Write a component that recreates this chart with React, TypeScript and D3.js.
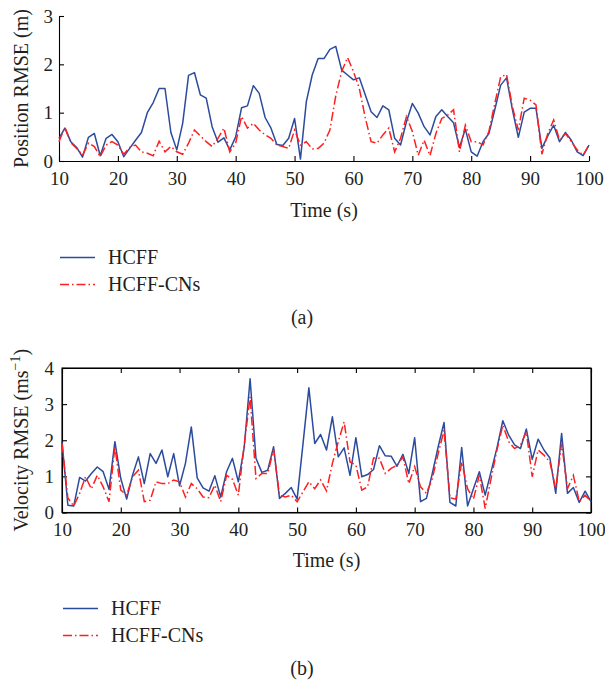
import React, { useEffect, useRef } from 'react';
import * as d3 from 'd3';

// time axis, one sample per second
const times = d3.range(10, 101);
const xTicks = [10, 20, 30, 40, 50, 60, 70, 80, 90, 100];

// (a) position RMSE (m)
const posHCFF = [
  0.47, 0.68, 0.40, 0.28, 0.08, 0.49, 0.57, 0.11, 0.47, 0.55,
  0.40, 0.09, 0.26, 0.43, 0.59, 1.00, 1.21, 1.50, 1.50, 0.59,
  0.23, 0.78, 1.77, 1.83, 1.37, 1.30, 0.71, 0.39, 0.48, 0.23,
  0.50, 1.10, 1.14, 1.56, 1.40, 0.90, 0.68, 0.34, 0.32, 0.47,
  0.88, 0.04, 1.23, 1.78, 2.12, 2.12, 2.31, 2.37, 1.88, 1.78,
  1.68, 1.72, 1.37, 1.02, 0.90, 1.14, 1.06, 0.47, 0.33, 0.81,
  1.19, 0.99, 0.71, 0.54, 0.92, 1.06, 0.92, 0.79, 0.28, 0.66,
  0.19, 0.10, 0.40, 0.57, 1.06, 1.57, 1.72, 1.06, 0.49, 1.01,
  1.09, 1.09, 0.26, 0.52, 0.74, 0.40, 0.59, 0.43, 0.19, 0.11,
  0.33,
];
const posCNs = [
  0.40, 0.70, 0.38, 0.26, 0.12, 0.37, 0.30, 0.09, 0.33, 0.40,
  0.33, 0.14, 0.28, 0.33, 0.19, 0.16, 0.11, 0.41, 0.19, 0.30,
  0.19, 0.14, 0.37, 0.64, 0.52, 0.40, 0.30, 0.47, 0.68, 0.19,
  0.37, 0.92, 0.68, 0.78, 0.64, 0.54, 0.47, 0.33, 0.30, 0.26,
  0.64, 0.33, 0.40, 0.25, 0.26, 0.37, 0.64, 1.35, 1.85, 2.14,
  1.85, 1.50, 0.90, 0.40, 0.37, 0.54, 0.68, 0.19, 0.47, 0.92,
  0.61, 0.12, 0.43, 0.11, 0.57, 0.88, 0.95, 1.06, 0.19, 0.74,
  0.40, 0.40, 0.33, 0.61, 1.19, 1.74, 1.79, 1.12, 0.64, 1.30,
  1.26, 1.16, 0.14, 0.57, 0.85, 0.43, 0.57, 0.40, 0.23, 0.12,
  0.33,
];

// (b) velocity RMSE (m/s)
const velHCFF = [
  1.96, 0.20, 0.18, 0.97, 0.87, 1.08, 1.26, 1.13, 0.64, 1.96,
  0.94, 0.37, 1.03, 1.54, 0.80, 1.63, 1.36, 1.73, 0.99, 1.63,
  0.74, 1.36, 2.37, 0.96, 0.68, 0.59, 1.02, 0.43, 1.13, 1.50,
  0.85, 1.80, 3.70, 1.50, 1.11, 1.17, 1.82, 0.39, 0.53, 0.69,
  0.37, 1.90, 3.45, 1.91, 2.16, 1.73, 2.65, 1.54, 1.79, 1.03,
  2.07, 0.99, 1.05, 1.19, 1.85, 1.57, 1.56, 1.28, 1.61, 1.08,
  2.07, 0.30, 0.39, 1.08, 1.82, 2.49, 0.28, 0.18, 1.80, 0.18,
  0.66, 1.13, 0.48, 1.13, 1.79, 2.54, 2.14, 1.87, 1.77, 2.31,
  1.47, 2.03, 1.73, 1.51, 0.53, 2.19, 0.53, 0.69, 0.28, 0.59,
  0.30,
];
const velCNs = [
  1.91, 0.40, 0.18, 0.53, 0.99, 0.65, 1.03, 0.71, 0.30, 1.82,
  0.62, 0.48, 0.99, 1.17, 0.30, 0.34, 0.85, 0.80, 0.80, 0.90,
  0.85, 0.43, 0.80, 0.66, 0.43, 0.41, 0.76, 0.30, 1.03, 0.92,
  0.48, 1.87, 3.20, 0.94, 1.08, 1.08, 1.75, 0.48, 0.43, 0.48,
  0.30, 0.57, 0.85, 0.66, 0.90, 0.60, 1.36, 1.96, 2.51, 1.40,
  1.31, 0.62, 0.71, 1.51, 1.50, 1.08, 1.22, 1.31, 1.54, 0.80,
  1.27, 0.71, 0.53, 0.94, 1.63, 2.28, 0.41, 0.37, 1.40, 0.66,
  0.37, 1.03, 0.11, 0.94, 1.73, 2.42, 1.96, 1.77, 1.87, 2.23,
  0.99, 1.73, 1.59, 1.40, 0.66, 1.91, 0.66, 1.03, 0.30, 0.48,
  0.30,
];

const seriesNames = ['HCFF', 'HCFF-CNs'];

const FONT = '"Liberation Serif", "Times New Roman", serif';
const TEXT = '#231f20';
const BLUE = '#2b4b9e';
const RED = '#ff1f1f';
const DASH = '9,3,1.5,3';

const drawPanel = (svg, p) => {
  const x = d3.scaleLinear().domain([10, 100]).range([p.left, p.right]);
  const y = d3.scaleLinear().domain([0, p.yMax]).range([p.bottom, p.top]);

  const styleAxis = (g) => {
    g.attr('font-family', FONT).attr('font-size', 19);
    g.selectAll('path, line').attr('stroke', '#000').attr('stroke-width', 1.1);
    g.selectAll('text').attr('fill', TEXT);
  };

  if (p.box) {
    svg.append('rect')
      .attr('x', p.left).attr('y', p.top)
      .attr('width', p.right - p.left).attr('height', p.bottom - p.top)
      .attr('fill', 'none').attr('stroke', '#000').attr('stroke-width', 1.1);
    svg.append('g').attr('transform', `translate(0,${p.top})`)
      .call(d3.axisTop(x).tickValues(xTicks).tickSizeInner(-5).tickSizeOuter(0).tickFormat(() => ''))
      .call(styleAxis);
    svg.append('g').attr('transform', `translate(${p.right},0)`)
      .call(d3.axisRight(y).ticks(p.yMax).tickSizeInner(-5).tickSizeOuter(0).tickFormat(() => ''))
      .call(styleAxis);
  }

  svg.append('g').attr('transform', `translate(0,${p.bottom})`)
    .call(d3.axisBottom(x).tickValues(xTicks).tickSizeInner(-5).tickSizeOuter(0).tickPadding(p.xPad))
    .call(styleAxis);
  svg.append('g').attr('transform', `translate(${p.left},0)`)
    .call(d3.axisLeft(y).ticks(p.yMax).tickFormat(d3.format('d')).tickSizeInner(-5).tickSizeOuter(0).tickPadding(p.yPad))
    .call(styleAxis);

  const line = d3.line()
    .x((d, i) => x(times[i]))
    .y((d) => y(d));

  svg.append('path').datum(p.blue)
    .attr('fill', 'none').attr('stroke', BLUE).attr('stroke-width', 1.5)
    .attr('stroke-linejoin', 'round').attr('d', line);
  svg.append('path').datum(p.red)
    .attr('fill', 'none').attr('stroke', RED).attr('stroke-width', 1.5)
    .attr('stroke-dasharray', DASH).attr('d', line);

  // x label
  svg.append('text')
    .attr('x', (p.left + p.right) / 2).attr('y', p.xLabelY)
    .attr('text-anchor', 'middle').attr('font-family', FONT).attr('font-size', 20).attr('fill', TEXT)
    .text('Time (s)');

  // y label
  const yl = svg.append('text')
    .attr('transform', `translate(28,${(p.top + p.bottom) / 2}) rotate(-90)`)
    .attr('text-anchor', 'middle').attr('font-family', FONT).attr('font-size', 20).attr('fill', TEXT);
  if (p.yLabelSup) {
    yl.append('tspan').text(p.yLabel);
    yl.append('tspan').attr('dy', -8).attr('font-size', 14).text(p.yLabelSup);
    yl.append('tspan').attr('dy', 8).text(')');
  } else {
    yl.text(p.yLabel);
  }

  // legend
  [BLUE, RED].forEach((c, i) => {
    const ly = p.legendY + i * 27;
    svg.append('line')
      .attr('x1', p.left + 1).attr('x2', p.left + 36).attr('y1', ly).attr('y2', ly)
      .attr('stroke', c).attr('stroke-width', 1.5)
      .attr('stroke-dasharray', i === 1 ? DASH : null);
    svg.append('text')
      .attr('x', p.left + 49).attr('y', ly + 6.5)
      .attr('font-family', FONT).attr('font-size', 20).attr('fill', TEXT)
      .text(seriesNames[i]);
  });

  svg.append('text')
    .attr('x', 302).attr('y', p.captionY)
    .attr('text-anchor', 'middle').attr('font-family', FONT).attr('font-size', 20).attr('fill', TEXT)
    .text(p.caption);
};

const App = () => {
  const svgRef = useRef(null);

  useEffect(() => {
    document.body.style.margin = '0';
    const svg = d3.select(svgRef.current);
    svg.selectAll('*').remove();

    drawPanel(svg, {
      left: 59, right: 589, top: 16, bottom: 161, yMax: 3,
      box: false, xPad: 11, yPad: 6, xLabelY: 217,
      yLabel: 'Position RMSE (m)', legendY: 257.5, captionY: 324, caption: '(a)',
      blue: posHCFF, red: posCNs,
    });
    drawPanel(svg, {
      left: 62, right: 591, top: 368, bottom: 512.5, yMax: 4,
      box: true, xPad: 10, yPad: 8, xLabelY: 567,
      yLabel: 'Velocity RMSE (ms', yLabelSup: '−1', legendY: 608.5, captionY: 675, caption: '(b)',
      blue: velHCFF, red: velCNs,
    });
  }, []);

  return <svg ref={svgRef} width={605} height={684} style={{ display: 'block', background: '#fff' }}></svg>;
};

export default App;
